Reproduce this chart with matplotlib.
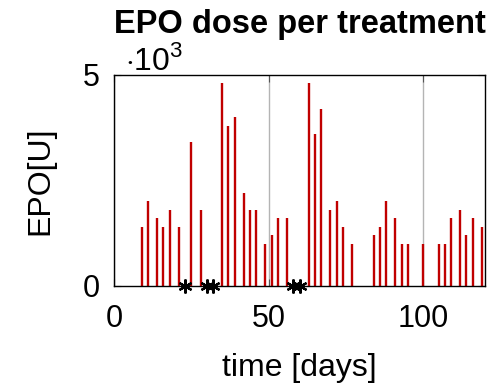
import matplotlib
matplotlib.use("Agg")
import matplotlib.pyplot as plt
import numpy as np

plt.rcParams['font.family'] = ['Liberation Sans', 'DejaVu Sans']
plt.rcParams['mathtext.fontset'] = 'custom'
plt.rcParams['mathtext.rm'] = 'Liberation Sans'

# EPO doses given per treatment day [U]
days = [9, 11, 14, 16, 18, 21, 25, 28, 35, 37, 39, 42, 44, 46, 49, 51, 53, 56,
        63, 65, 67, 70, 72, 74, 77, 84, 86, 88, 91, 93, 95, 100, 105, 107, 109,
        112, 114, 116, 119]
dose = [1400, 2000, 1600, 1400, 1800, 1400, 3400, 1800, 4800, 3800, 4000, 2200,
        1800, 1800, 1000, 1200, 1600, 1600, 4800, 3600, 4200, 1800, 2000, 1400,
        1000, 1200, 1400, 2000, 1600, 1000, 1000, 1000, 1000, 1000, 1600, 1800,
        1200, 1600, 1400]
# treatment days without dose
missed = [23, 30, 32, 58, 60]

fig = plt.figure(figsize=(4.92, 3.84), dpi=100)
ax = fig.add_axes([114/492, 1 - 285.7/384, 371/492, 210.7/384])

ax.grid(axis='x', color='#b4b4b4', lw=1.0)
ax.set_axisbelow(True)
ax.vlines(days, 0, np.array(dose) / 1000, color='#c00000', lw=1.7)
ax.plot(missed, np.zeros(len(missed)), ls='none', marker=(6, 2, 0), ms=10,
        mew=1.6, color='black', clip_on=False, zorder=5)

ax.set_xlim(0, 120)
ax.set_ylim(0, 5)
ax.set_xticks([0, 50, 100])
ax.set_yticks([0, 5])
ax.tick_params(direction='in', top=True, right=True, length=5, width=0.8,
               color='#555555', labelsize=22)
ax.tick_params(axis='x', pad=13)
ax.tick_params(axis='y', pad=10)
for s in ax.spines.values():
    s.set_linewidth(1.0)

ax.set_xlabel('time [days]', fontsize=23, labelpad=14)
ax.set_ylabel('EPO[U]', fontsize=23, labelpad=20)
ax.set_title('EPO dose per treatment', fontsize=23.5, fontweight='bold', pad=30)
ax.text(0.03, 1.024, r'$\cdot10^3$', transform=ax.transAxes, fontsize=23,
        va='baseline', ha='left')

fig.savefig('out.png', dpi=100)
